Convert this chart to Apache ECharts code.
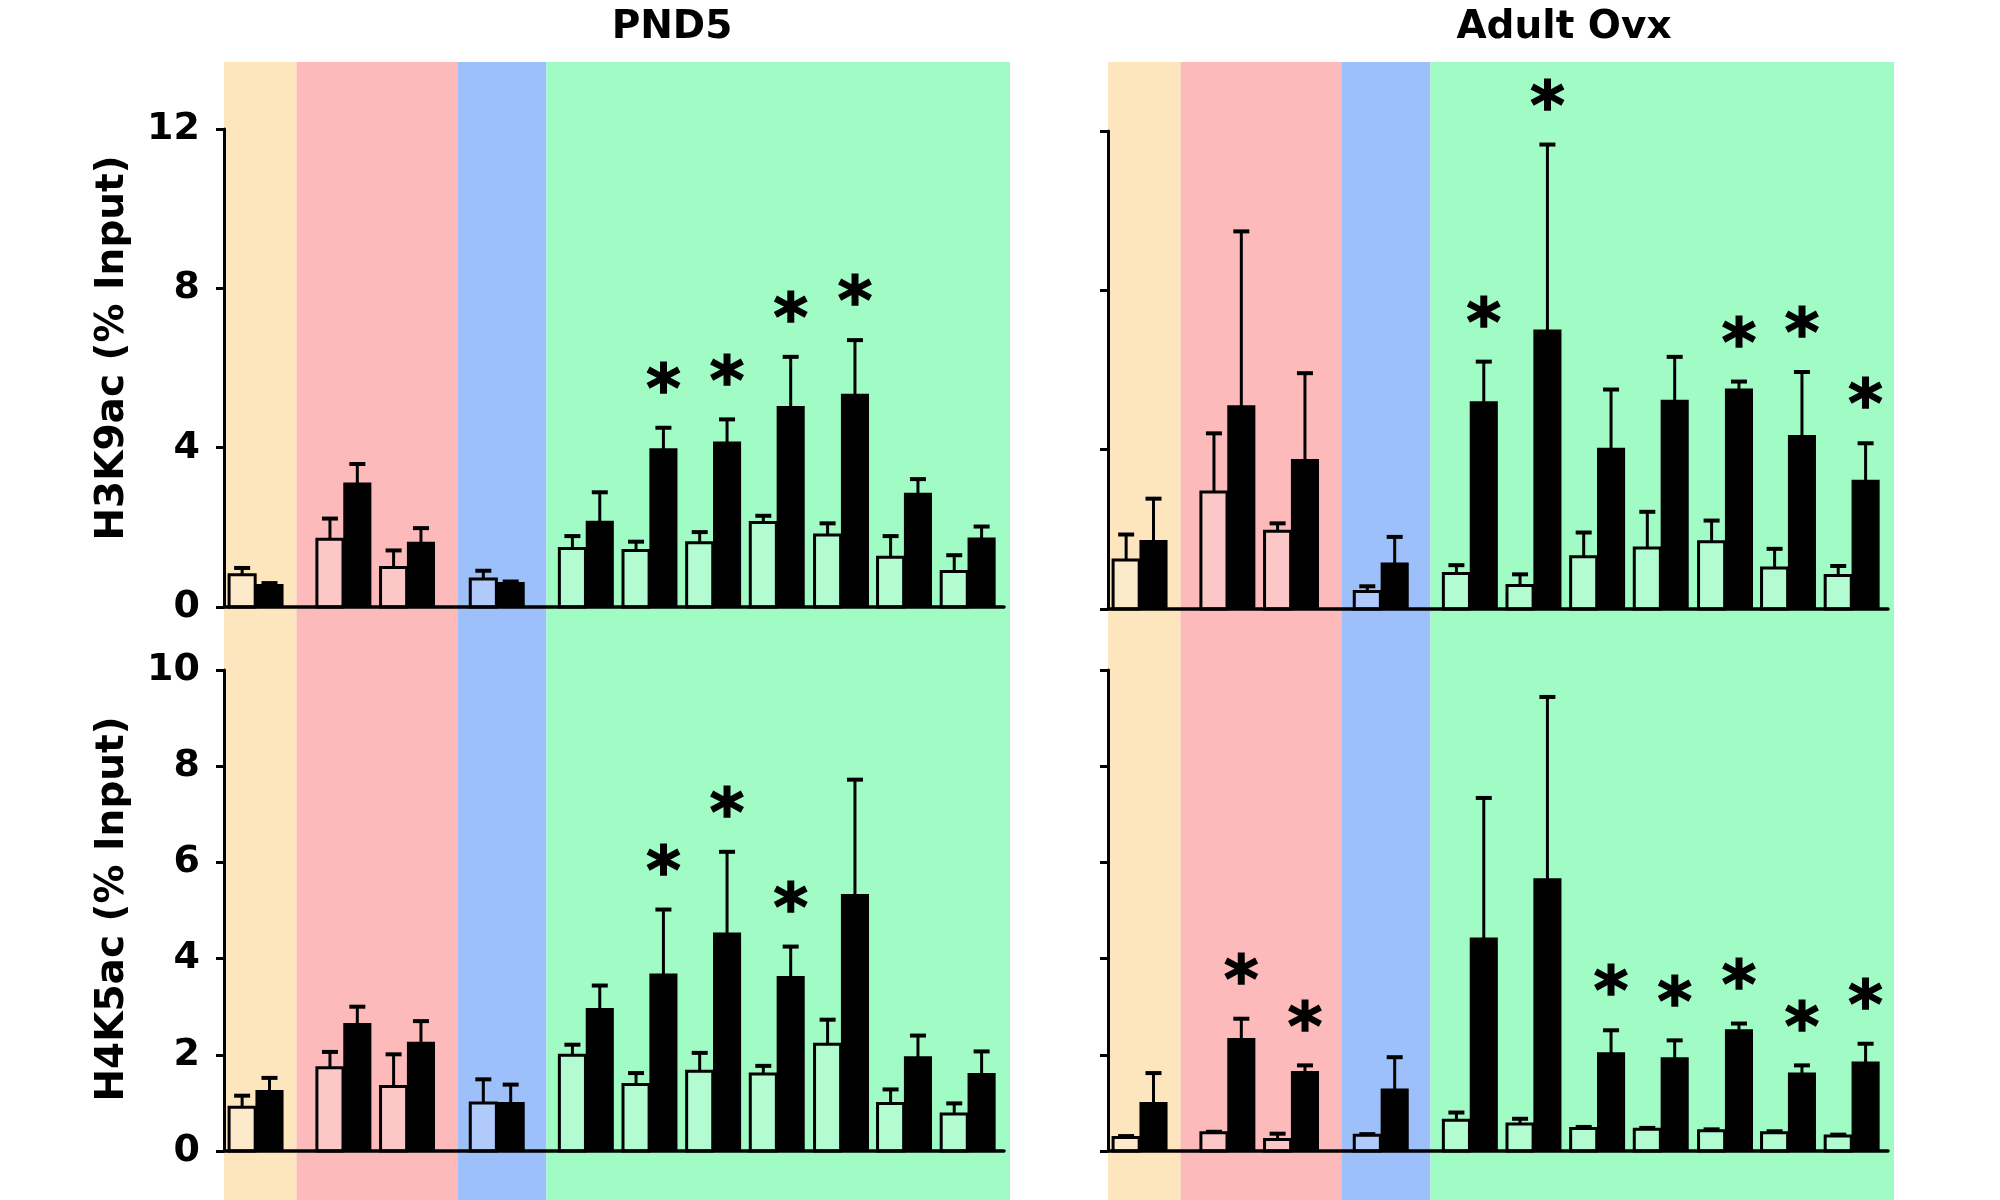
<!DOCTYPE html>
<html>
<head>
<meta charset="utf-8">
<script src="https://cdn.jsdelivr.net/npm/echarts@6/dist/echarts.min.js"></script>
<style>
  html, body { margin: 0; padding: 0; background: #fff; }
  #chart { width: 2000px; height: 1200px; }
</style>
</head>
<body>
<div id="chart"></div>
<script>
// group centres on the x axis (11 amplicons)
const groupPos = [0.5, 1.88, 2.88, 4.29, 5.69, 6.69, 7.69, 8.69, 9.7, 10.69, 11.69];
// shaded regions behind the bars [from, to]
const bandEdges = [[0, 1.14], [1.14, 3.67], [3.67, 5.07], [5.07, 12.36]];

const h3Ticks = [0, 4, 8, 12];
const h4Ticks = [0, 2, 4, 6, 8, 10];

// PND5 - H3K9ac
const pndH3Open = [0.81, 1.70, 0.99, 0.70, 1.47, 1.42, 1.61, 2.12, 1.81, 1.25, 0.89];
const pndH3OpenSem = [0.17, 0.52, 0.43, 0.21, 0.31, 0.22, 0.27, 0.17, 0.29, 0.53, 0.41];
const pndH3Filled = [0.55, 3.10, 1.61, 0.60, 2.14, 3.96, 4.13, 5.02, 5.33, 2.84, 1.72];
const pndH3FilledSem = [0.05, 0.49, 0.37, 0.04, 0.74, 0.54, 0.58, 1.26, 1.37, 0.37, 0.30];
const pndH3Stars = [5, 6, 7, 8];

// Adult Ovx - H3K9ac
const ovxH3Open = [1.23, 2.94, 1.95, 0.44, 0.89, 0.59, 1.31, 1.53, 1.69, 1.03, 0.84];
const ovxH3OpenSem = [0.64, 1.47, 0.20, 0.13, 0.21, 0.28, 0.61, 0.91, 0.53, 0.48, 0.24];
const ovxH3Filled = [1.71, 5.09, 3.74, 1.14, 5.19, 6.99, 4.02, 5.23, 5.51, 4.34, 3.22];
const ovxH3FilledSem = [1.06, 4.39, 2.18, 0.67, 1.02, 4.67, 1.49, 1.10, 0.20, 1.61, 0.94];
const ovxH3Stars = [4, 5, 8, 9, 10];

// PND5 - H4K5ac
const pndH4Open = [0.91, 1.73, 1.34, 1.00, 1.99, 1.38, 1.66, 1.60, 2.22, 0.99, 0.77];
const pndH4OpenSem = [0.24, 0.33, 0.67, 0.49, 0.22, 0.24, 0.38, 0.17, 0.51, 0.29, 0.22];
const pndH4Filled = [1.25, 2.64, 2.25, 1.00, 2.95, 3.67, 4.52, 3.62, 5.32, 1.95, 1.60];
const pndH4FilledSem = [0.27, 0.36, 0.45, 0.38, 0.49, 1.35, 1.70, 0.63, 2.40, 0.45, 0.47];
const pndH4Stars = [5, 6, 7];

// Adult Ovx - H4K5ac
const ovxH4Open = [0.28, 0.38, 0.24, 0.33, 0.64, 0.56, 0.47, 0.45, 0.42, 0.38, 0.31];
const ovxH4OpenSem = [0.03, 0.02, 0.12, 0.02, 0.16, 0.11, 0.03, 0.03, 0.03, 0.03, 0.03];
const ovxH4Filled = [1.00, 2.33, 1.64, 1.28, 4.42, 5.65, 2.03, 1.93, 2.51, 1.61, 1.84];
const ovxH4FilledSem = [0.62, 0.42, 0.14, 0.67, 2.92, 3.79, 0.48, 0.37, 0.14, 0.17, 0.39];
const ovxH4Stars = [1, 2, 6, 7, 8, 9, 10];

const BAND_COLORS = ["#fde5bd", "#fcbaba", "#9dbffa", "#a1fbc5"];
const FONT = "DejaVu Sans";
const BAR_W = 0.41;
const BAR_GAP = 0.01;

const chart = echarts.init(document.getElementById("chart"));

// panel layout
const panels = [
  { left: 224, top: 129, height: 478, ticks: h3Ticks, labels: true },
  { left: 1108, top: 131, height: 478, ticks: h3Ticks, labels: false },
  { left: 224, top: 670, height: 481, ticks: h4Ticks, labels: true },
  { left: 1108, top: 670, height: 481, ticks: h4Ticks, labels: false },
];

const grids = [
  { left: 224, top: 62, width: 786, height: 1138 },
  { left: 1108, top: 62, width: 786, height: 1138 },
];
const xAxes = [
  { type: "value", gridIndex: 0, min: 0, max: 12.36, show: false },
  { type: "value", gridIndex: 1, min: 0, max: 12.36, show: false },
];
const yAxes = [
  { type: "value", gridIndex: 0, min: 0, max: 1, show: false },
  { type: "value", gridIndex: 1, min: 0, max: 1, show: false },
];

panels.forEach((p, i) => {
  grids.push({ left: p.left, top: p.top, width: 780, height: p.height });
  xAxes.push({
    type: "value",
    gridIndex: i + 2,
    min: 0,
    max: 12.257,
    axisLine: { show: true, onZero: false, lineStyle: { color: "#000", width: 3.5 } },
    axisTick: { show: false },
    axisLabel: { show: false },
    splitLine: { show: false },
    z: 5,
  });
  yAxes.push({
    type: "value",
    gridIndex: i + 2,
    min: p.ticks[0],
    max: p.ticks[p.ticks.length - 1],
    interval: p.ticks[1] - p.ticks[0],
    axisLine: { show: true, lineStyle: { color: "#000", width: 3 } },
    axisTick: { show: true, length: 8, lineStyle: { color: "#000", width: 3 } },
    axisLabel: {
      show: p.labels,
      margin: 24,
      color: "#000",
      fontFamily: FONT,
      fontWeight: "bold",
      fontSize: 38,
    },
    splitLine: { show: false },
    z: 5,
  });
});

function bandSeries(idx) {
  return {
    type: "custom",
    xAxisIndex: idx,
    yAxisIndex: idx,
    z: 0,
    silent: true,
    encode: { x: [0, 1] },
    data: bandEdges.map((e, i) => [e[0], e[1], i]),
    renderItem(params, api) {
      const a = api.coord([api.value(0), 1]);
      const b = api.coord([api.value(1), 0]);
      return {
        type: "rect",
        shape: { x: a[0], y: a[1], width: b[0] - a[0], height: b[1] - a[1] },
        style: { fill: BAND_COLORS[api.value(2)] },
      };
    },
  };
}

// side -1 = open (control) bar, +1 = filled bar
function barSeries(idx, values, sems, side, stars) {
  return {
    type: "custom",
    xAxisIndex: idx,
    yAxisIndex: idx,
    z: 4,
    clip: false,
    silent: true,
    encode: { x: 0, y: 1 },
    data: groupPos.map((x, i) => [x, values[i], sems[i], stars.includes(i) ? 1 : 0]),
    renderItem(params, api) {
      const x = api.value(0);
      const v = api.value(1);
      const e = api.value(2);
      const a = side < 0 ? x - BAR_GAP - BAR_W : x + BAR_GAP;
      const p0 = api.coord([a, 0]);
      const p1 = api.coord([a + BAR_W, v]);
      const cx = (p0[0] + p1[0]) / 2;
      const top = api.coord([x, v + e])[1];
      const kids = [
        {
          type: "line",
          shape: { x1: cx, y1: p1[1], x2: cx, y2: top },
          style: { stroke: "#000", lineWidth: 3 },
        },
        {
          type: "line",
          shape: { x1: cx - 8, y1: top, x2: cx + 8, y2: top },
          style: { stroke: "#000", lineWidth: 4 },
        },
        {
          type: "rect",
          shape: { x: p0[0], y: p1[1], width: p1[0] - p0[0], height: p0[1] - p1[1] },
          style: side < 0
            ? { fill: "rgba(255,255,255,0.2)", stroke: "#000", lineWidth: 3 }
            : { fill: "#000", stroke: "#000", lineWidth: 2 },
        },
      ];
      if (api.value(3)) {
        kids.push({
          type: "text",
          x: cx,
          y: top - 34,
          style: {
            text: "*",
            fill: "#000",
            stroke: "#000",
            lineWidth: 1.5,
            font: "bold 66px " + FONT,
            textAlign: "center",
            textVerticalAlign: "middle",
          },
        });
      }
      return { type: "group", children: kids };
    },
  };
}

const series = [
  bandSeries(0),
  bandSeries(1),
  barSeries(2, pndH3Open, pndH3OpenSem, -1, []),
  barSeries(2, pndH3Filled, pndH3FilledSem, 1, pndH3Stars),
  barSeries(3, ovxH3Open, ovxH3OpenSem, -1, []),
  barSeries(3, ovxH3Filled, ovxH3FilledSem, 1, ovxH3Stars),
  barSeries(4, pndH4Open, pndH4OpenSem, -1, []),
  barSeries(4, pndH4Filled, pndH4FilledSem, 1, pndH4Stars),
  barSeries(5, ovxH4Open, ovxH4OpenSem, -1, []),
  barSeries(5, ovxH4Filled, ovxH4FilledSem, 1, ovxH4Stars),
];

const textStyle = (size) => ({ fill: "#000", font: "bold " + size + "px " + FONT, textAlign: "center", textVerticalAlign: "middle" });

const option = {
  animation: false,
  backgroundColor: "#fff",
  grid: grids,
  xAxis: xAxes,
  yAxis: yAxes,
  series: series,
  graphic: [
    { type: "text", x: 672, y: 28, style: { text: "PND5", ...textStyle(39) } },
    { type: "text", x: 1564, y: 28, style: { text: "Adult Ovx", ...textStyle(39) } },
    { type: "text", x: 113, y: 348, rotation: Math.PI / 2, style: { text: "H3K9ac (% Input)", ...textStyle(39) } },
    { type: "text", x: 113, y: 909, rotation: Math.PI / 2, style: { text: "H4K5ac (% Input)", ...textStyle(39) } },
  ],
};

chart.setOption(option);
</script>
</body>
</html>
